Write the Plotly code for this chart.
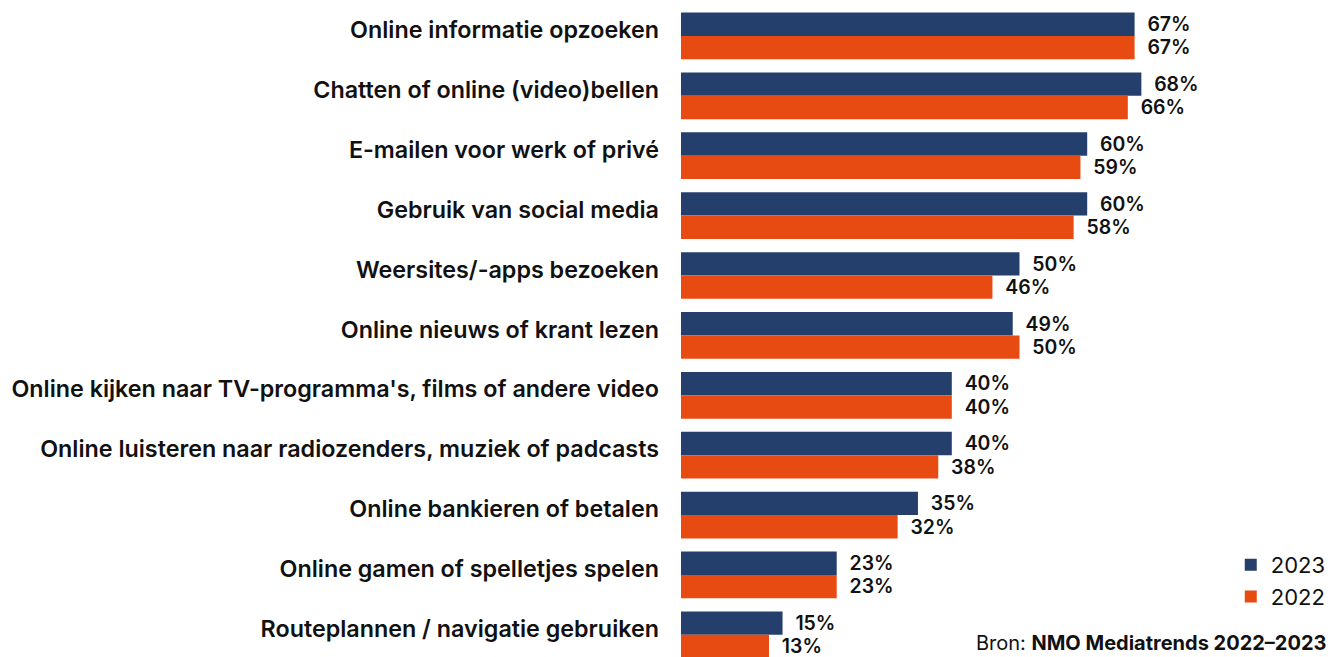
import plotly.graph_objects as go

categories = [
    "Online informatie opzoeken",
    "Chatten of online (video)bellen",
    "E-mailen voor werk of privé",
    "Gebruik van social media",
    "Weersites/-apps bezoeken",
    "Online nieuws of krant lezen",
    "Online kijken naar TV-programma's, films of andere video",
    "Online luisteren naar radiozenders, muziek of padcasts",
    "Online bankieren of betalen",
    "Online gamen of spelletjes spelen",
    "Routeplannen / navigatie gebruiken",
]
values_2023 = [67, 68, 60, 60, 50, 49, 40, 40, 35, 23, 15]
values_2022 = [67, 66, 59, 58, 46, 50, 40, 38, 32, 23, 13]

NAVY = "#243F6B"
ORANGE = "#E84B12"
FONT = "Inter"
pad = "\u00a0\u00a0"

fig = go.Figure()
for name, vals, col in [("2023", values_2023, NAVY), ("2022", values_2022, ORANGE)]:
    fig.add_trace(go.Bar(
        y=categories, x=vals, name=name, orientation="h",
        marker=dict(color=col, line=dict(width=0)),
        texttemplate=pad + "%{x}%", textposition="outside",
        textfont=dict(family=FONT, size=20, color="#111111", weight=600),
        cliponaxis=False,
    ))

fig.update_layout(
    width=1336, height=657,
    barmode="group", bargap=0.22, bargroupgap=0,
    plot_bgcolor="white", paper_bgcolor="white",
    margin=dict(l=681, r=0, t=0, b=0),
    font=dict(family=FONT, color="#111111"),
    legend=dict(
        x=0.992, xanchor="right", y=0.172, yanchor="top",
        traceorder="normal", font=dict(size=22, family=FONT),
        bgcolor="rgba(0,0,0,0)", itemwidth=30,
    ),
    annotations=[dict(
        text="Bron: <b>NMO Mediatrends 2022–2023</b>",
        xref="paper", yref="paper", x=0.9875, y=0.0, xanchor="right", yanchor="bottom",
        showarrow=False, font=dict(size=20, family=FONT, color="#111111"),
    )],
)
fig.update_xaxes(range=[0, 96.75], visible=False)
fig.update_yaxes(
    range=[10.37, -0.6], showline=False, showgrid=False, ticks="",
    tickfont=dict(family=FONT, size=23.3, weight=600, color="#111111"),
    ticklabelstandoff=21, ticklabelshift=6,
)

fig.write_html("out.html", config={"displayModeBar": False},
               post_script="document.body.style.margin='0';")
